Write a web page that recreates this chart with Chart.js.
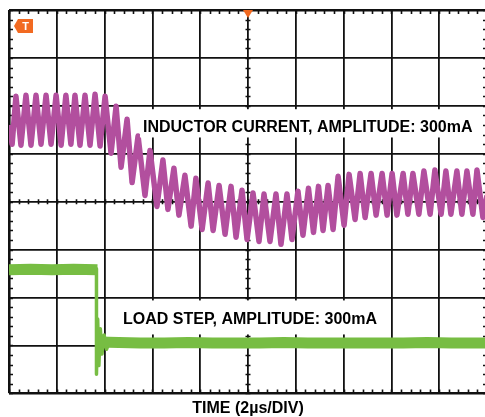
<!DOCTYPE html>
<html>
<head>
<meta charset="utf-8">
<script src="https://cdn.jsdelivr.net/npm/chart.js@4.4.1/dist/chart.umd.min.js"></script>
<style>
  html, body { margin: 0; padding: 0; background: #fff; overflow: hidden; }
  #wrap { width: 490px; height: 417px; }
</style>
</head>
<body>
<div id="wrap"><canvas id="scope" width="490" height="417"></canvas></div>
<script>
// time in µs (2µs/div), levels in screen divisions (0 = bottom graticule line)
const indTime = [0, 0.13, 0.29, 0.50, 0.71, 0.92, 1.13, 1.34, 1.55, 1.76,
  1.97, 2.18, 2.38, 2.59, 2.76, 2.97, 3.18, 3.39, 3.60, 3.81,
  4.02, 4.27, 4.48, 4.69, 4.94, 5.15, 5.40, 5.69, 5.90, 6.19,
  6.44, 6.65, 6.90, 7.11, 7.36, 7.62, 7.82, 8.08, 8.33, 8.54,
  8.79, 9.04, 9.29, 9.50, 9.75, 9.96, 10.21, 10.46, 10.67, 10.92,
  11.17, 11.38, 11.63, 11.84, 12.09, 12.30, 12.53, 12.74, 12.95, 13.14,
  13.35, 13.56, 13.77, 14.02, 14.23, 14.48, 14.69, 14.90, 15.15, 15.36,
  15.61, 15.82, 16.03, 16.23, 16.49, 16.69, 16.90, 17.15, 17.36, 17.62,
  17.82, 18.08, 18.28, 18.49, 18.74, 18.95, 19.16, 19.41, 19.58, 19.83, 20.0];
const indLevel = [5.60, 5.20, 6.20, 5.18, 6.22, 5.18, 6.22, 5.20, 6.22, 5.20,
  6.22, 5.18, 6.22, 5.20, 6.22, 5.18, 6.22, 5.18, 6.24, 5.16,
  6.20, 5.01, 5.99, 4.72, 5.72, 4.40, 5.37, 4.13, 5.07, 3.90,
  4.87, 3.84, 4.70, 3.72, 4.55, 3.49, 4.49, 3.42, 4.39, 3.40,
  4.34, 3.32, 4.32, 3.26, 4.24, 3.21, 4.18, 3.17, 4.16, 3.17,
  4.16, 3.11, 4.16, 3.21, 4.22, 3.30, 4.28, 3.36, 4.32, 3.40,
  4.34, 3.42, 4.53, 3.51, 4.57, 3.63, 4.59, 3.67, 4.59, 3.72,
  4.59, 3.72, 4.59, 3.72, 4.59, 3.74, 4.59, 3.74, 4.64, 3.74,
  4.66, 3.74, 4.64, 3.74, 4.64, 3.74, 4.64, 3.74, 4.66, 3.67, 4.13];

const preTime = [0, 0.9, 1.8, 2.7, 3.70];
const preLevel = [2.58, 2.59, 2.58, 2.59, 2.58];
const stepTime = [3.66, 3.66, 3.71, 3.76, 3.82, 3.89, 3.98, 4.08, 4.22, 4.40];
const stepLevel = [2.60, 0.40, 1.55, 0.58, 1.35, 0.82, 1.22, 0.92, 1.10, 1.04];
const postTime = [3.74, 4.6, 5.5, 6.5, 7.5, 8.5, 9.5, 10.5, 11.5, 12.5, 13.5, 14.5, 15.5, 16.5, 17.5, 18.5, 19.5, 20];
const postLevel = [1.07, 1.06, 1.05, 1.05, 1.06, 1.05, 1.05, 1.05, 1.06, 1.05, 1.05, 1.05, 1.05, 1.05, 1.06, 1.05, 1.05, 1.05];

const notes = ["INDUCTOR CURRENT, AMPLITUDE: 300mA", "LOAD STEP, AMPLITUDE: 300mA"];
const xTitle = "TIME (2\u00b5s/DIV)";

const pts = (xs, ys) => xs.map((x, i) => ({ x: x, y: ys[i] }));
const FONT = '"Liberation Sans", Arial, sans-serif';

// minor ticks, label boxes and trigger markers
const scopeMarks = {
  id: "scopeMarks",
  beforeDatasetsDraw(chart) {
    const { ctx, chartArea: a, scales: { x, y } } = chart;
    const cx = x.getPixelForValue(10);
    const cy = y.getPixelForValue(4);
    ctx.save();
    ctx.strokeStyle = "#111";
    ctx.lineWidth = 1.6;
    ctx.beginPath();
    for (let i = 0; i <= 50; i++) {
      const px = Math.round(x.getPixelForValue(i * 0.4)) + 0.5;
      ctx.moveTo(px, a.top); ctx.lineTo(px, a.top + 4);
      ctx.moveTo(px, a.bottom); ctx.lineTo(px, a.bottom - 4);
      ctx.moveTo(px, cy - 2.5); ctx.lineTo(px, cy + 2.5);
    }
    for (let i = 0; i <= 40; i++) {
      const py = Math.round(y.getPixelForValue(i * 0.2)) + 0.5;
      ctx.moveTo(a.left, py); ctx.lineTo(a.left + 4, py);
      ctx.moveTo(a.right, py); ctx.lineTo(a.right - 4, py);
      ctx.moveTo(cx - 2.5, py); ctx.lineTo(cx + 2.5, py);
    }
    ctx.stroke();
    ctx.restore();
  },
  afterDatasetsDraw(chart) {
    const { ctx, chartArea: a, scales: { x, y } } = chart;
    ctx.save();
    // label boxes
    const boxes = [
      { text: notes[0], x0: 5.48, x1: 19.58, y0: 5.93, y1: 5.34, tx: 5.607, ty: 5.45 },
      { text: notes[1], x0: 4.64, x1: 15.56, y0: 1.94, y1: 1.23, tx: 4.77, ty: 1.45 }
    ];
    boxes.forEach(b => {
      const l = x.getPixelForValue(b.x0), r = x.getPixelForValue(b.x1);
      const t = y.getPixelForValue(b.y0), btm = y.getPixelForValue(b.y1);
      ctx.fillStyle = "#fff";
      ctx.fillRect(l, t, r - l, btm - t);
      ctx.fillStyle = "#000";
      ctx.font = "bold 16px " + FONT;
      ctx.textBaseline = "alphabetic";
      ctx.textAlign = "left";
      ctx.fillText(b.text, x.getPixelForValue(b.tx), y.getPixelForValue(b.ty));
    });
    // trigger position marker (top)
    const cx = x.getPixelForValue(10);
    ctx.fillStyle = "#f26a21";
    ctx.beginPath();
    ctx.moveTo(cx - 5, a.top);
    ctx.lineTo(cx + 5, a.top);
    ctx.lineTo(cx, a.top + 8);
    ctx.closePath();
    ctx.fill();
    // trigger level badge (left)
    const bx = a.left + 5, by = a.top + 9;
    ctx.beginPath();
    ctx.moveTo(bx, by + 7);
    ctx.lineTo(bx + 4, by);
    ctx.lineTo(bx + 19, by);
    ctx.lineTo(bx + 19, by + 14);
    ctx.lineTo(bx + 4, by + 14);
    ctx.closePath();
    ctx.fill();
    ctx.fillStyle = "#fff";
    ctx.font = "bold 11px " + FONT;
    ctx.textAlign = "center";
    ctx.textBaseline = "middle";
    ctx.fillText("T", bx + 11.5, by + 7.5);
    ctx.restore();
  }
};

const edge = (v, lo, hi) => (v === lo || v === hi) ? 2.6 : 1.8;

new Chart(document.getElementById("scope"), {
  type: "scatter",
  data: {
    datasets: [
      { data: pts(preTime, preLevel), borderColor: "#77bd43", borderWidth: 11 },
      { data: pts(postTime, postLevel), borderColor: "#77bd43", borderWidth: 11 },
      { data: pts(stepTime, stepLevel), borderColor: "#77bd43", borderWidth: 3.5 },
      { data: pts(indTime, indLevel), borderColor: "#b24f9e", borderWidth: 5.5 }
    ]
  },
  options: {
    responsive: false,
    animation: false,
    devicePixelRatio: 1,
    showLine: true,
    layout: { padding: { left: 9, top: 10, right: 3, bottom: 0 } },
    elements: {
      point: { radius: 0, hoverRadius: 0 },
      line: { tension: 0, borderJoinStyle: "round", borderCapStyle: "butt" }
    },
    plugins: {
      legend: { display: false },
      tooltip: { enabled: false }
    },
    scales: {
      x: {
        type: "linear",
        min: 0,
        max: 20,
        ticks: { display: false, stepSize: 2 },
        border: { display: false },
        grid: {
          color: "#111",
          drawTicks: false,
          lineWidth: c => edge(c.tick.value, 0, 20)
        },
        title: {
          display: true,
          text: xTitle,
          color: "#000",
          font: { family: FONT, size: 16, weight: "bold", lineHeight: 1.1 },
          padding: { top: 6, bottom: 0 }
        }
      },
      y: {
        type: "linear",
        min: 0,
        max: 8,
        ticks: { display: false, stepSize: 1 },
        border: { display: false },
        grid: {
          color: "#111",
          drawTicks: false,
          lineWidth: c => edge(c.tick.value, 0, 8)
        }
      }
    }
  },
  plugins: [scopeMarks]
});
</script>
</body>
</html>
